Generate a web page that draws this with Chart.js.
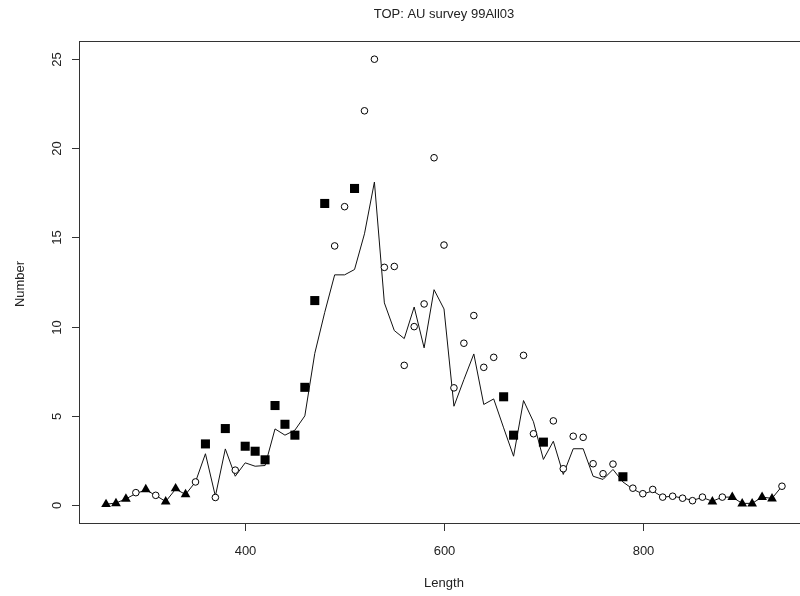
<!DOCTYPE html>
<html>
<head>
<meta charset="utf-8">
<script src="https://cdn.jsdelivr.net/npm/chart.js@4"></script>
<style>
  html, body { margin: 0; padding: 0; background: #fff; overflow: hidden; }
  #wrap { width: 800px; height: 596px; overflow: hidden; }
  canvas { display: block; }
</style>
</head>
<body>
<div id="wrap"><canvas id="lenChart" width="840" height="596"></canvas></div>
<script>
// length classes (mm)
const lengths = [260, 270, 280, 290, 300, 310, 320, 330, 340, 350, 360, 370, 380, 390, 400, 410, 420, 430, 440, 450,
  460, 470, 480, 490, 500, 510, 520, 530, 540, 550, 560, 570, 580, 590, 600, 610, 620, 630, 640, 650,
  660, 670, 680, 690, 700, 710, 720, 730, 740, 750, 760, 770, 780, 790, 800, 810, 820, 830, 840, 850,
  860, 870, 880, 890, 900, 910, 920, 930, 940];

// observed numbers
const observed = [0.05, 0.1, 0.35, 0.7, 0.88, 0.55, 0.2, 0.93, 0.6, 1.3, 3.43, 0.43, 4.29, 1.96, 3.3, 3.02, 2.54, 5.58, 4.53, 3.92,
  6.6, 11.46, 16.9, 14.52, 16.72, 17.74, 22.09, 24.98, 13.32, 13.37, 7.83, 10.0, 11.27, 19.46, 14.57, 6.57, 9.07, 10.62, 7.72, 8.28,
  6.07, 3.92, 8.39, 4.0, 3.53, 4.72, 2.04, 3.86, 3.8, 2.32, 1.76, 2.3, 1.59, 0.95, 0.64, 0.88, 0.45, 0.5, 0.39, 0.25,
  0.45, 0.2, 0.45, 0.45, 0.08, 0.08, 0.45, 0.36, 1.06];

// symbol per length class: t = triangle, c = open circle, s = square
const symbols = ['t', 't', 't', 'c', 't', 'c', 't', 't', 't', 'c', 's', 'c', 's', 'c', 's', 's', 's', 's', 's', 's',
  's', 's', 's', 'c', 'c', 's', 'c', 'c', 'c', 'c', 'c', 'c', 'c', 'c', 'c', 'c', 'c', 'c', 'c', 'c',
  's', 's', 'c', 'c', 's', 'c', 'c', 'c', 'c', 'c', 'c', 'c', 's', 'c', 'c', 'c', 'c', 'c', 'c', 'c',
  'c', 't', 'c', 't', 't', 't', 't', 't', 'c'];

// fitted line
const fitted = [0.05, 0.12, 0.35, 0.65, 0.85, 0.55, 0.2, 0.9, 0.6, 1.3, 2.88, 0.5, 3.15, 1.62, 2.37, 2.18, 2.22, 4.27, 3.92, 4.2,
  5.0, 8.5, 10.8, 12.9, 12.9, 13.2, 15.2, 18.1, 11.33, 9.78, 9.33, 11.1, 8.81, 12.07, 10.99, 5.54, 7.03, 8.47, 5.64, 5.95,
  4.33, 2.74, 5.86, 4.67, 2.56, 3.58, 1.72, 3.16, 3.16, 1.62, 1.44, 2.0, 1.3, 0.9, 0.62, 0.8, 0.45, 0.5, 0.4, 0.27,
  0.43, 0.22, 0.45, 0.45, 0.1, 0.1, 0.45, 0.38, 1.06];

const xTicks = [400, 600, 800];
const yTicks = [0, 5, 10, 15, 20, 25];

function pointsFor(sym) {
  const out = [];
  lengths.forEach((len, i) => {
    if (symbols[i] === sym) out.push({ x: len, y: observed[i] });
  });
  return out;
}

const FONT = '"Liberation Sans", Arial, sans-serif';
const INK = '#222';

// R style box, ticks and labels
const rAxes = {
  id: 'rAxes',
  afterDraw(chart) {
    const { ctx, chartArea: a, scales } = chart;
    const xs = scales.x, ys = scales.y;
    ctx.save();
    ctx.strokeStyle = '#333';
    ctx.lineWidth = 1;
    ctx.strokeRect(a.left + 0.5, a.top + 0.5, a.right - a.left, a.bottom - a.top);

    ctx.fillStyle = INK;
    ctx.font = '13px ' + FONT;
    ctx.textAlign = 'center';
    ctx.textBaseline = 'middle';

    xTicks.forEach(v => {
      const px = Math.round(xs.getPixelForValue(v)) + 0.5;
      ctx.beginPath();
      ctx.moveTo(px, a.bottom + 0.5);
      ctx.lineTo(px, a.bottom + 8);
      ctx.stroke();
      ctx.fillText(String(v), px, 551);
    });

    yTicks.forEach(v => {
      const py = Math.round(ys.getPixelForValue(v)) + 0.5;
      ctx.beginPath();
      ctx.moveTo(a.left + 0.5, py);
      ctx.lineTo(a.left - 7, py);
      ctx.stroke();
      ctx.save();
      ctx.translate(57, py);
      ctx.rotate(-Math.PI / 2);
      ctx.fillText(String(v), 0, 0);
      ctx.restore();
    });

    const midX = (a.left + a.right) / 2;
    ctx.fillText('Length', midX, 583);
    ctx.fillText('TOP: AU survey 99All03', midX, 14);

    ctx.save();
    ctx.translate(20, 284);
    ctx.rotate(-Math.PI / 2);
    ctx.fillText('Number', 0, 0);
    ctx.restore();
    ctx.restore();
  }
};

new Chart(document.getElementById('lenChart'), {
  type: 'scatter',
  data: {
    datasets: [
      {
        type: 'line',
        data: lengths.map((len, i) => ({ x: len, y: fitted[i] })),
        borderColor: '#111',
        borderWidth: 1,
        pointRadius: 0,
        tension: 0,
        fill: false,
        order: 2
      },
      {
        data: pointsFor('c'),
        pointStyle: 'circle',
        pointRadius: 3.3,
        backgroundColor: '#fff',
        borderColor: '#000',
        borderWidth: 1,
        order: 1
      },
      {
        data: pointsFor('s'),
        pointStyle: 'rect',
        pointRadius: 6.4,
        backgroundColor: '#000',
        borderColor: '#000',
        borderWidth: 0,
        order: 1
      },
      {
        data: pointsFor('t'),
        pointStyle: 'triangle',
        pointRadius: 5.6,
        backgroundColor: '#000',
        borderColor: '#000',
        borderWidth: 0,
        order: 1
      }
    ]
  },
  options: {
    responsive: false,
    animation: false,
    devicePixelRatio: 1,
    layout: { padding: { left: 79, right: 31, top: 41, bottom: 73 } },
    plugins: { legend: { display: false }, tooltip: { enabled: false }, title: { display: false } },
    scales: {
      x: { type: 'linear', min: 232.8, max: 967.2, display: false },
      y: { type: 'linear', min: -1, max: 26, display: false }
    }
  },
  plugins: [rAxes]
});
</script>
</body>
</html>
